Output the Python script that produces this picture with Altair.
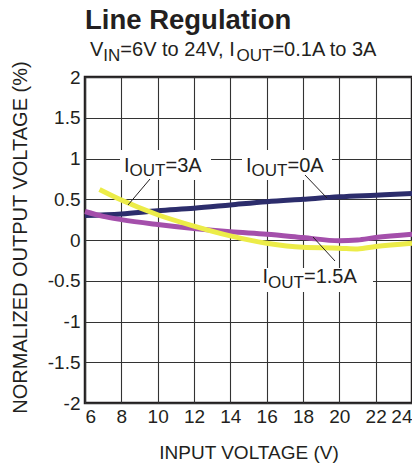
import altair as alt
import pandas as pd

# ---- data ----
x_ticks = [6, 8, 10, 12, 14, 16, 18, 20, 22, 24]
y_ticks = [-2, -1.5, -1, -0.5, 0, 0.5, 1, 1.5, 2]

x_0A = [6, 8, 10, 12, 14, 16, 18, 20, 22, 24]
y_0A = [0.30, 0.32, 0.36, 0.39, 0.43, 0.47, 0.50, 0.53, 0.55, 0.57]

x_15A = [6, 7, 8, 10, 12, 14, 16, 18, 20, 21, 22, 24]
y_15A = [0.35, 0.29, 0.25, 0.19, 0.14, 0.10, 0.07, 0.03, -0.01, 0.0, 0.03, 0.07]

x_3A = [6.8, 8, 10, 12, 14, 16, 18, 20, 21, 22, 24]
y_3A = [0.62, 0.49, 0.31, 0.17, 0.05, -0.04, -0.09, -0.10, -0.11, -0.08, -0.04]

FONT = "Liberation Sans"
INK = "#231f20"
W, H = 327, 326

# Arial / Liberation Sans advance widths (per em) used to chain text pieces
ADV = {" ": .278, ",": .278, ".": .278, "=": .584, "A": .667, "I": .278,
       "N": .722, "O": .778, "T": .611, "U": .722, "V": .667, "t": .278,
       "o": .556}


def adv(s, size):
    return sum(ADV.get(c, .556) for c in s) * size


xenc = alt.X("x:Q", scale=alt.Scale(domain=[6, 24], nice=False, zero=False),
             axis=alt.Axis(values=x_ticks, title="INPUT VOLTAGE (V)",
                           labelExpr="'' + datum.value", labelPadding=4,
                           titleX=W / 2, titleY=55, titleAlign="center",
                           titleBaseline="alphabetic", titleFontSize=19))
yenc = alt.Y("y:Q", scale=alt.Scale(domain=[-2, 2], nice=False, zero=False),
             axis=alt.Axis(values=y_ticks, title="NORMALIZED OUTPUT VOLTAGE (%)",
                           labelExpr="'' + datum.value", labelPadding=5,
                           titleAngle=270, titleX=-59, titleY=H / 2 - 3,
                           titleAlign="center", titleBaseline="alphabetic",
                           titleFontSize=20))


def curve(xs, ys, color):
    df = pd.DataFrame({"x": xs, "y": ys})
    return alt.Chart(df).mark_line(color=color, strokeWidth=5, strokeCap="butt",
                                   interpolate="monotone").encode(x=xenc, y=yenc)


def one():
    return alt.Data(values=[{}])


def txt(s, x, y, size, bold=False):
    return alt.Chart(one()).mark_text(
        text=s, align="left", baseline="alphabetic", font=FONT, fontSize=size,
        fontWeight="bold" if bold else "normal", color=INK
    ).encode(x=alt.value(x), y=alt.value(y))


def rich(pieces, x, y, main=20, sub=17, drop=4.5):
    """pieces: list of (text, is_subscript); chained left to right."""
    out = []
    for s, is_sub in pieces:
        size = sub if is_sub else main
        out.append(txt(s, x, y + (drop if is_sub else 0), size))
        x += adv(s, size)
    return out


def box(x1, x2, y1, y2):
    return alt.Chart(one()).mark_rect(color="white").encode(
        x=alt.value(x1), x2=alt.value(x2), y=alt.value(y1), y2=alt.value(y2))


def leader(x1, y1, x2, y2):
    return alt.Chart(one()).mark_rule(color=INK, strokeWidth=1).encode(
        x=alt.value(x1), y=alt.value(y1), x2=alt.value(x2), y2=alt.value(y2))


boxes = [box(35, 126, 73, 103), box(157, 247, 73, 103), box(175, 288, 191, 215)]

lines = [
    curve(x_0A, y_0A, "#2c2d6c"),
    curve(x_15A, y_15A, "#a44fab"),
    curve(x_3A, y_3A, "#ecec48"),
]

leaders = [
    leader(65, 102, 43, 128),
    leader(220, 98, 242, 121),
    leader(228, 160, 250, 184),
]

labels = [txt("Line Regulation", 0, -48, 27.5, bold=True)]
labels += rich([("V", False), ("IN", True), ("=6V to 24V, I", False),
                ("OUT", True), ("=0.1A to 3A", False)], 5, -21)
labels += rich([("I", False), ("OUT", True), ("=3A", False)], 39, 94.5)
labels += rich([("I", False), ("OUT", True), ("=0A", False)], 161, 94.5)
labels += rich([("I", False), ("OUT", True), ("=1.5A", False)], 177.5, 206)

chart = alt.layer(*boxes, *lines, *leaders, *labels).properties(
    width=W, height=H,
    padding={"left": 77, "top": 69, "right": 0, "bottom": 60},
    autosize=alt.AutoSizeParams(type="none"),
).configure_view(
    stroke=INK, strokeWidth=2.5
).configure_axis(
    domain=False, ticks=False, grid=True, gridColor="#333333", gridWidth=1.1,
    labelFont=FONT, labelFontSize=19, labelColor=INK,
    titleFont=FONT, titleFontWeight="normal", titleColor=INK,
)

chart.save("out.html", embed_options={"renderer": "svg", "actions": False})
